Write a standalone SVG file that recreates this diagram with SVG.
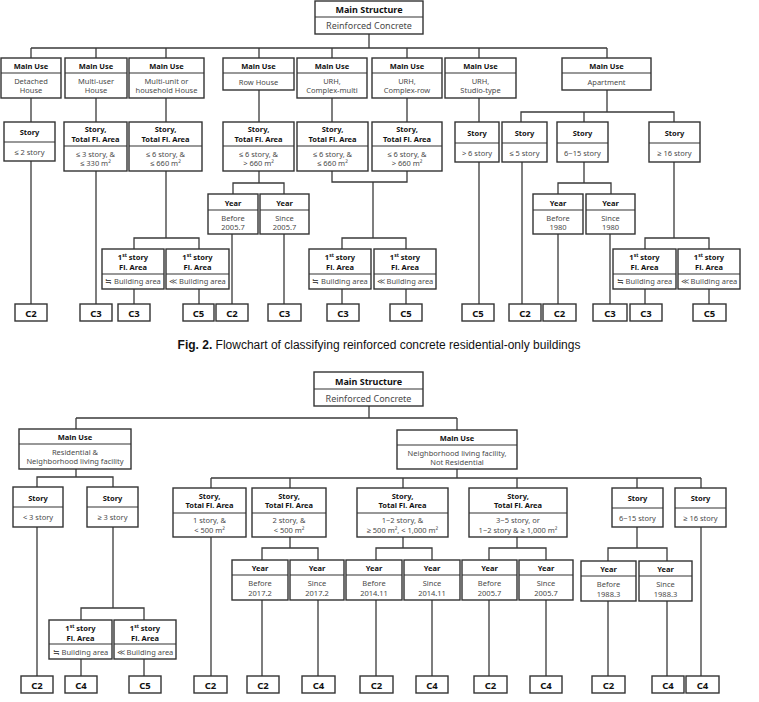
<svg xmlns="http://www.w3.org/2000/svg" width="759" height="702" viewBox="0 0 759 702">
<style>
.bx{fill:#fff;stroke:#333;stroke-width:1.4}
.dv{stroke:#333;stroke-width:1.2}
.ln{fill:none;stroke:#3a3a3a;stroke-width:1.3}
.h{font-family:"Noto Sans",sans-serif;font-size:7.5px;font-weight:bold;fill:#111;text-anchor:middle}
.t{font-family:"Noto Sans",sans-serif;font-size:7.5px;fill:#4a4a4a;text-anchor:middle}
.mh{font-size:9px}
.mt{font-size:9px}
.cl{font-family:"Noto Sans",sans-serif;font-size:9.5px;font-weight:bold;fill:#111;text-anchor:middle}
.cap{font-family:"Liberation Sans",Arial,sans-serif;font-size:12px;fill:#111}
</style>
<rect width="759" height="702" fill="#fff"/>

<!-- connectors -->
<g id="connectors" class="ln">
<!-- top -->
<path d="M369 34V48M31 48H607M31 48V58M96 48V58M166 48V58M259 48V58M332 48V58M407 48V58M479 48V58M607 48V58"/>
<path d="M31 98V122M31 161V304"/>
<path d="M96 98V122M96 171V304"/>
<path d="M166 98V122M166 171V238M134 249V238H199V249M134 289V304M199 289V304"/>
<path d="M259 90V122M259 171V183M233 194V183H284V194M232 234V304M284 234V304"/>
<path d="M332 98V122M407 98V122M332 171V182H407V171M373 182V238M342 249V238H406V249M342 289V304M406 289V304"/>
<path d="M479 98V122M479 162V304"/>
<path d="M607 90V112M521 122V112H674V122M584 112V122M522 162V304"/>
<path d="M584 162V183M558 194V183H611V194M558 234V304M610 234V304"/>
<path d="M674 162V238M645 249V238H709V249M645 289V304M709 289V304"/>
<!-- bottom -->
<path d="M369 406V418M76 418H457M76 418V429M457 418V430"/>
<path d="M76 469V477M37 487V477H113V487M37 527V676"/>
<path d="M113 527V608M81 620V608H144V620M81 659V676M144 659V676"/>
<path d="M457 469V478M211 478H701M211 478V488M290 478V488M403 478V488M517 478V488M637 478V488M701 478V488"/>
<path d="M211 537V676"/>
<path d="M290 537V548M262 560V548H318V560M262 600V676M318 600V676"/>
<path d="M403 537V548M376 560V548H432V560M376 600V676M432 600V676"/>
<path d="M517 537V548M489 560V548H546V560M489 600V676M546 600V676"/>
<path d="M637 527V548M608 561V548H667V561M608 601V676M667 601V676"/>
<path d="M701 527V676"/>
</g>

<!-- ===== TOP DIAGRAM ===== -->
<g id="ms1"><rect class="bx" x="315" y="1" width="108" height="33"/><line class="dv" x1="315" y1="17" x2="423" y2="17"/>
<text class="h mh" x="369" y="12.5">Main Structure</text><text class="t mt" x="369" y="29">Reinforced Concrete</text></g>

<g id="mu1"><rect class="bx" x="1" y="58" width="60" height="40"/><line class="dv" x1="1" y1="73" x2="61" y2="73"/>
<text class="h" x="31" y="68.5">Main Use</text><text class="t" x="31" y="84">Detached</text><text class="t" x="31" y="93">House</text></g>
<g id="mu2"><rect class="bx" x="65" y="58" width="62" height="40"/><line class="dv" x1="65" y1="73" x2="127" y2="73"/>
<text class="h" x="96" y="68.5">Main Use</text><text class="t" x="96" y="84">Multi-user</text><text class="t" x="96" y="93">House</text></g>
<g id="mu3"><rect class="bx" x="129" y="58" width="75" height="40"/><line class="dv" x1="129" y1="73" x2="204" y2="73"/>
<text class="h" x="166.5" y="68.5">Main Use</text><text class="t" x="166.5" y="84">Multi-unit or</text><text class="t" x="166.5" y="93">household House</text></g>
<g id="mu4"><rect class="bx" x="223" y="58" width="71" height="32"/><line class="dv" x1="223" y1="73" x2="294" y2="73"/>
<text class="h" x="258.5" y="68.5">Main Use</text><text class="t" x="258.5" y="84.5">Row House</text></g>
<g id="mu5"><rect class="bx" x="297" y="58" width="70" height="40"/><line class="dv" x1="297" y1="73" x2="367" y2="73"/>
<text class="h" x="332" y="68.5">Main Use</text><text class="t" x="332" y="84">URH,</text><text class="t" x="332" y="93">Complex-multi</text></g>
<g id="mu6"><rect class="bx" x="372" y="58" width="70" height="40"/><line class="dv" x1="372" y1="73" x2="442" y2="73"/>
<text class="h" x="407" y="68.5">Main Use</text><text class="t" x="407" y="84">URH,</text><text class="t" x="407" y="93">Complex-row</text></g>
<g id="mu7"><rect class="bx" x="445" y="58" width="71" height="40"/><line class="dv" x1="445" y1="73" x2="516" y2="73"/>
<text class="h" x="480.5" y="68.5">Main Use</text><text class="t" x="480.5" y="84">URH,</text><text class="t" x="480.5" y="93">Studio-type</text></g>
<g id="mu8"><rect class="bx" x="562" y="58" width="89" height="32"/><line class="dv" x1="562" y1="73" x2="651" y2="73"/>
<text class="h" x="606.5" y="68.5">Main Use</text><text class="t" x="606.5" y="84.5">Apartment</text></g>

<g id="s1"><rect class="bx" x="4" y="122" width="51" height="39"/><line class="dv" x1="4" y1="142" x2="55" y2="142"/>
<text class="h" x="29.5" y="135">Story</text><text class="t" x="29.5" y="155">≤ 2 story</text></g>
<g id="s2"><rect class="bx" x="64" y="122" width="63" height="49"/><line class="dv" x1="64" y1="146" x2="127" y2="146"/>
<text class="h" x="95.5" y="132">Story,</text><text class="h" x="95.5" y="142">Total Fl. Area</text><text class="t" x="95.5" y="157">≤ 3 story, &amp;</text><text class="t" x="95.5" y="166">≤ 330 m²</text></g>
<g id="s3"><rect class="bx" x="129" y="122" width="73" height="49"/><line class="dv" x1="129" y1="146" x2="202" y2="146"/>
<text class="h" x="165.5" y="132">Story,</text><text class="h" x="165.5" y="142">Total Fl. Area</text><text class="t" x="165.5" y="157">≤ 6 story, &amp;</text><text class="t" x="165.5" y="166">≤ 660 m²</text></g>
<g id="s4"><rect class="bx" x="223" y="122" width="71" height="49"/><line class="dv" x1="223" y1="146" x2="294" y2="146"/>
<text class="h" x="258.5" y="132">Story,</text><text class="h" x="258.5" y="142">Total Fl. Area</text><text class="t" x="258.5" y="157">≤ 6 story, &amp;</text><text class="t" x="258.5" y="166">&gt; 660 m²</text></g>
<g id="s5"><rect class="bx" x="297" y="122" width="71" height="49"/><line class="dv" x1="297" y1="146" x2="368" y2="146"/>
<text class="h" x="332.5" y="132">Story,</text><text class="h" x="332.5" y="142">Total Fl. Area</text><text class="t" x="332.5" y="157">≤ 6 story, &amp;</text><text class="t" x="332.5" y="166">≤ 660 m²</text></g>
<g id="s6"><rect class="bx" x="372" y="122" width="70" height="49"/><line class="dv" x1="372" y1="146" x2="442" y2="146"/>
<text class="h" x="407" y="132">Story,</text><text class="h" x="407" y="142">Total Fl. Area</text><text class="t" x="407" y="157">≤ 6 story, &amp;</text><text class="t" x="407" y="166">&gt; 660 m²</text></g>
<g id="s7"><rect class="bx" x="455" y="122" width="44" height="40"/><line class="dv" x1="455" y1="143" x2="499" y2="143"/>
<text class="h" x="477" y="135.5">Story</text><text class="t" x="477" y="155.5">&gt; 6 story</text></g>
<g id="s8"><rect class="bx" x="502" y="122" width="45" height="40"/><line class="dv" x1="502" y1="143" x2="547" y2="143"/>
<text class="h" x="524.5" y="135.5">Story</text><text class="t" x="524.5" y="155.5">≤ 5 story</text></g>
<g id="s9"><rect class="bx" x="557" y="122" width="51" height="40"/><line class="dv" x1="557" y1="143" x2="608" y2="143"/>
<text class="h" x="582.5" y="135.5">Story</text><text class="t" x="582.5" y="155.5">6~15 story</text></g>
<g id="s10"><rect class="bx" x="649" y="122" width="51" height="40"/><line class="dv" x1="649" y1="143" x2="700" y2="143"/>
<text class="h" x="674.5" y="135.5">Story</text><text class="t" x="674.5" y="155.5">≥ 16 story</text></g>

<g id="y1"><rect class="bx" x="208" y="194" width="50" height="40"/><line class="dv" x1="208" y1="210" x2="258" y2="210"/>
<text class="h" x="233" y="205.5">Year</text><text class="t" x="233" y="221">Before</text><text class="t" x="233" y="230">2005.7</text></g>
<g id="y2"><rect class="bx" x="260" y="194" width="49" height="40"/><line class="dv" x1="260" y1="210" x2="309" y2="210"/>
<text class="h" x="284.5" y="205.5">Year</text><text class="t" x="284.5" y="221">Since</text><text class="t" x="284.5" y="230">2005.7</text></g>
<g id="y3"><rect class="bx" x="533" y="194" width="50" height="40"/><line class="dv" x1="533" y1="210" x2="583" y2="210"/>
<text class="h" x="558" y="205.5">Year</text><text class="t" x="558" y="221">Before</text><text class="t" x="558" y="230">1980</text></g>
<g id="y4"><rect class="bx" x="586" y="194" width="49" height="40"/><line class="dv" x1="586" y1="210" x2="635" y2="210"/>
<text class="h" x="610.5" y="205.5">Year</text><text class="t" x="610.5" y="221">Since</text><text class="t" x="610.5" y="230">1980</text></g>

<g id="f1"><rect class="bx" x="102" y="249" width="62" height="40"/><line class="dv" x1="102" y1="274" x2="164" y2="274"/>
<text class="h" x="133" y="260">1<tspan font-size="5" dy="-3">st</tspan><tspan dy="3"> story</tspan></text><text class="h" x="133" y="270">Fl. Area</text><text class="t" x="133" y="284">≒ Building area</text></g>
<g id="f2"><rect class="bx" x="166" y="249" width="63" height="40"/><line class="dv" x1="166" y1="274" x2="229" y2="274"/>
<text class="h" x="197.5" y="260">1<tspan font-size="5" dy="-3">st</tspan><tspan dy="3"> story</tspan></text><text class="h" x="197.5" y="270">Fl. Area</text><text class="t" x="197.5" y="284">≪ Building area</text></g>
<g id="f3"><rect class="bx" x="309" y="249" width="62" height="40"/><line class="dv" x1="309" y1="274" x2="371" y2="274"/>
<text class="h" x="340" y="260">1<tspan font-size="5" dy="-3">st</tspan><tspan dy="3"> story</tspan></text><text class="h" x="340" y="270">Fl. Area</text><text class="t" x="340" y="284">≒ Building area</text></g>
<g id="f4"><rect class="bx" x="374" y="249" width="62" height="40"/><line class="dv" x1="374" y1="274" x2="436" y2="274"/>
<text class="h" x="405" y="260">1<tspan font-size="5" dy="-3">st</tspan><tspan dy="3"> story</tspan></text><text class="h" x="405" y="270">Fl. Area</text><text class="t" x="405" y="284">≪ Building area</text></g>
<g id="f5"><rect class="bx" x="613" y="249" width="63" height="40"/><line class="dv" x1="613" y1="274" x2="676" y2="274"/>
<text class="h" x="644.5" y="260">1<tspan font-size="5" dy="-3">st</tspan><tspan dy="3"> story</tspan></text><text class="h" x="644.5" y="270">Fl. Area</text><text class="t" x="644.5" y="284">≒ Building area</text></g>
<g id="f6"><rect class="bx" x="678" y="249" width="62" height="40"/><line class="dv" x1="678" y1="274" x2="740" y2="274"/>
<text class="h" x="709" y="260">1<tspan font-size="5" dy="-3">st</tspan><tspan dy="3"> story</tspan></text><text class="h" x="709" y="270">Fl. Area</text><text class="t" x="709" y="284">≪ Building area</text></g>

<g id="c_t1"><rect class="bx" x="15" y="304" width="32" height="17"/><text class="cl" x="31" y="316.5">C2</text></g>
<g id="c_t2"><rect class="bx" x="80" y="304" width="32" height="17"/><text class="cl" x="96" y="316.5">C3</text></g>
<g id="c_t3"><rect class="bx" x="118" y="304" width="32" height="17"/><text class="cl" x="134" y="316.5">C3</text></g>
<g id="c_t4"><rect class="bx" x="183" y="304" width="31" height="17"/><text class="cl" x="198.5" y="316.5">C5</text></g>
<g id="c_t5"><rect class="bx" x="216" y="304" width="32" height="17"/><text class="cl" x="232" y="316.5">C2</text></g>
<g id="c_t6"><rect class="bx" x="268" y="304" width="33" height="17"/><text class="cl" x="284.5" y="316.5">C3</text></g>
<g id="c_t7"><rect class="bx" x="327" y="304" width="32" height="17"/><text class="cl" x="343" y="316.5">C3</text></g>
<g id="c_t8"><rect class="bx" x="390" y="304" width="32" height="17"/><text class="cl" x="406" y="316.5">C5</text></g>
<g id="c_t9"><rect class="bx" x="462" y="304" width="32" height="17"/><text class="cl" x="478" y="316.5">C5</text></g>
<g id="c_t10"><rect class="bx" x="509" y="304" width="32" height="17"/><text class="cl" x="525" y="316.5">C2</text></g>
<g id="c_t11"><rect class="bx" x="543" y="304" width="33" height="17"/><text class="cl" x="559.5" y="316.5">C2</text></g>
<g id="c_t12"><rect class="bx" x="593" y="304" width="34" height="17"/><text class="cl" x="610" y="316.5">C3</text></g>
<g id="c_t13"><rect class="bx" x="630" y="304" width="32" height="17"/><text class="cl" x="646" y="316.5">C3</text></g>
<g id="c_t14"><rect class="bx" x="693" y="304" width="33" height="17"/><text class="cl" x="709.5" y="316.5">C5</text></g>

<text class="cap" x="379" y="349" text-anchor="middle"><tspan font-weight="bold">Fig. 2.</tspan> Flowchart of classifying reinforced concrete residential-only buildings</text>

<!-- ===== BOTTOM DIAGRAM ===== -->
<g id="ms2"><rect class="bx" x="314" y="372" width="109" height="34"/><line class="dv" x1="314" y1="389" x2="423" y2="389"/>
<text class="h mh" x="368.5" y="385">Main Structure</text><text class="t mt" x="368.5" y="401.5">Reinforced Concrete</text></g>

<g id="muL"><rect class="bx" x="19" y="429" width="112" height="40"/><line class="dv" x1="19" y1="444" x2="131" y2="444"/>
<text class="h" x="75" y="439.5">Main Use</text><text class="t" x="75" y="455">Residential &amp;</text><text class="t" x="75" y="464">Neighborhood living facility</text></g>
<g id="muR"><rect class="bx" x="397" y="430" width="120" height="39"/><line class="dv" x1="397" y1="445" x2="517" y2="445"/>
<text class="h" x="457" y="440.5">Main Use</text><text class="t" x="457" y="456">Neighborhood living facility,</text><text class="t" x="457" y="465">Not Residential</text></g>

<g id="sL1"><rect class="bx" x="13" y="487" width="50" height="40"/><line class="dv" x1="13" y1="507" x2="63" y2="507"/>
<text class="h" x="38" y="500.5">Story</text><text class="t" x="38" y="520">&lt; 3 story</text></g>
<g id="sL2"><rect class="bx" x="87" y="487" width="51" height="40"/><line class="dv" x1="87" y1="507" x2="138" y2="507"/>
<text class="h" x="112.5" y="500.5">Story</text><text class="t" x="112.5" y="520">≥ 3 story</text></g>

<g id="sR1"><rect class="bx" x="173" y="488" width="73" height="49"/><line class="dv" x1="173" y1="513" x2="246" y2="513"/>
<text class="h" x="209.5" y="498.5">Story,</text><text class="h" x="209.5" y="508">Total Fl. Area</text><text class="t" x="209.5" y="523">1 story, &amp;</text><text class="t" x="209.5" y="532.5">&lt; 500 m²</text></g>
<g id="sR2"><rect class="bx" x="252" y="488" width="74" height="49"/><line class="dv" x1="252" y1="513" x2="326" y2="513"/>
<text class="h" x="289" y="498.5">Story,</text><text class="h" x="289" y="508">Total Fl. Area</text><text class="t" x="289" y="523">2 story, &amp;</text><text class="t" x="289" y="532.5">&lt; 500 m²</text></g>
<g id="sR3"><rect class="bx" x="357" y="488" width="91" height="49"/><line class="dv" x1="357" y1="513" x2="448" y2="513"/>
<text class="h" x="402.5" y="498.5">Story,</text><text class="h" x="402.5" y="508">Total Fl. Area</text><text class="t" x="402.5" y="523">1~2 story, &amp;</text><text class="t" x="402.5" y="532.5">≥ 500 m², &lt; 1,000 m²</text></g>
<g id="sR4"><rect class="bx" x="469" y="488" width="98" height="49"/><line class="dv" x1="469" y1="513" x2="567" y2="513"/>
<text class="h" x="518" y="498.5">Story,</text><text class="h" x="518" y="508">Total Fl. Area</text><text class="t" x="518" y="523">3~5 story, or</text><text class="t" x="518" y="532.5">1~2 story &amp; ≥ 1,000 m²</text></g>
<g id="sR5"><rect class="bx" x="612" y="488" width="51" height="39"/><line class="dv" x1="612" y1="508" x2="663" y2="508"/>
<text class="h" x="637.5" y="501">Story</text><text class="t" x="637.5" y="521">6~15 story</text></g>
<g id="sR6"><rect class="bx" x="675" y="488" width="51" height="39"/><line class="dv" x1="675" y1="508" x2="726" y2="508"/>
<text class="h" x="700.5" y="501">Story</text><text class="t" x="700.5" y="521">≥ 16 story</text></g>

<g id="yb1"><rect class="bx" x="232" y="560" width="56" height="40"/><line class="dv" x1="232" y1="575" x2="288" y2="575"/>
<text class="h" x="260" y="571">Year</text><text class="t" x="260" y="586">Before</text><text class="t" x="260" y="595.5">2017.2</text></g>
<g id="yb2"><rect class="bx" x="290" y="560" width="54" height="40"/><line class="dv" x1="290" y1="575" x2="344" y2="575"/>
<text class="h" x="317" y="571">Year</text><text class="t" x="317" y="586">Since</text><text class="t" x="317" y="595.5">2017.2</text></g>
<g id="yb3"><rect class="bx" x="346" y="560" width="56" height="40"/><line class="dv" x1="346" y1="575" x2="402" y2="575"/>
<text class="h" x="374" y="571">Year</text><text class="t" x="374" y="586">Before</text><text class="t" x="374" y="595.5">2014.11</text></g>
<g id="yb4"><rect class="bx" x="404" y="560" width="56" height="40"/><line class="dv" x1="404" y1="575" x2="460" y2="575"/>
<text class="h" x="432" y="571">Year</text><text class="t" x="432" y="586">Since</text><text class="t" x="432" y="595.5">2014.11</text></g>
<g id="yb5"><rect class="bx" x="462" y="560" width="55" height="40"/><line class="dv" x1="462" y1="575" x2="517" y2="575"/>
<text class="h" x="489.5" y="571">Year</text><text class="t" x="489.5" y="586">Before</text><text class="t" x="489.5" y="595.5">2005.7</text></g>
<g id="yb6"><rect class="bx" x="519" y="560" width="54" height="40"/><line class="dv" x1="519" y1="575" x2="573" y2="575"/>
<text class="h" x="546" y="571">Year</text><text class="t" x="546" y="586">Since</text><text class="t" x="546" y="595.5">2005.7</text></g>
<g id="yb7"><rect class="bx" x="581" y="561" width="55" height="40"/><line class="dv" x1="581" y1="576" x2="636" y2="576"/>
<text class="h" x="608.5" y="572">Year</text><text class="t" x="608.5" y="587">Before</text><text class="t" x="608.5" y="596.5">1988.3</text></g>
<g id="yb8"><rect class="bx" x="639" y="561" width="53" height="40"/><line class="dv" x1="639" y1="576" x2="692" y2="576"/>
<text class="h" x="665.5" y="572">Year</text><text class="t" x="665.5" y="587">Since</text><text class="t" x="665.5" y="596.5">1988.3</text></g>

<g id="fL1"><rect class="bx" x="49" y="620" width="63" height="39"/><line class="dv" x1="49" y1="644" x2="112" y2="644"/>
<text class="h" x="80.5" y="631">1<tspan font-size="5" dy="-3">st</tspan><tspan dy="3"> story</tspan></text><text class="h" x="80.5" y="640.5">Fl. Area</text><text class="t" x="80.5" y="655">≒ Building area</text></g>
<g id="fL2"><rect class="bx" x="114" y="620" width="62" height="39"/><line class="dv" x1="114" y1="644" x2="176" y2="644"/>
<text class="h" x="145" y="631">1<tspan font-size="5" dy="-3">st</tspan><tspan dy="3"> story</tspan></text><text class="h" x="145" y="640.5">Fl. Area</text><text class="t" x="145" y="655">≪ Building area</text></g>

<g id="c_b1"><rect class="bx" x="21" y="676" width="32" height="17"/><text class="cl" x="37" y="688.5">C2</text></g>
<g id="c_b2"><rect class="bx" x="65" y="676" width="32" height="17"/><text class="cl" x="81" y="688.5">C4</text></g>
<g id="c_b3"><rect class="bx" x="129" y="676" width="32" height="17"/><text class="cl" x="145" y="688.5">C5</text></g>
<g id="c_b4"><rect class="bx" x="194" y="676" width="33" height="17"/><text class="cl" x="210.5" y="688.5">C2</text></g>
<g id="c_b5"><rect class="bx" x="247" y="676" width="32" height="17"/><text class="cl" x="263" y="688.5">C2</text></g>
<g id="c_b6"><rect class="bx" x="302" y="676" width="33" height="17"/><text class="cl" x="318.5" y="688.5">C4</text></g>
<g id="c_b7"><rect class="bx" x="360" y="676" width="33" height="17"/><text class="cl" x="376.5" y="688.5">C2</text></g>
<g id="c_b8"><rect class="bx" x="416" y="676" width="32" height="17"/><text class="cl" x="432" y="688.5">C4</text></g>
<g id="c_b9"><rect class="bx" x="474" y="676" width="33" height="17"/><text class="cl" x="490.5" y="688.5">C2</text></g>
<g id="c_b10"><rect class="bx" x="530" y="676" width="32" height="17"/><text class="cl" x="546" y="688.5">C4</text></g>
<g id="c_b11"><rect class="bx" x="592" y="676" width="33" height="17"/><text class="cl" x="608.5" y="688.5">C2</text></g>
<g id="c_b12"><rect class="bx" x="652" y="676" width="32" height="17"/><text class="cl" x="668" y="688.5">C4</text></g>
<g id="c_b13"><rect class="bx" x="686" y="676" width="33" height="17"/><text class="cl" x="702.5" y="688.5">C4</text></g>
</svg>
